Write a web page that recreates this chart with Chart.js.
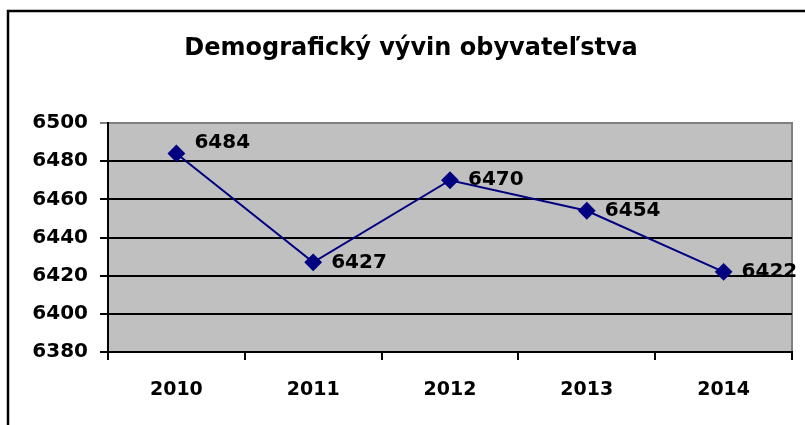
<!DOCTYPE html>
<html>
<head>
<meta charset="utf-8">
<script src="https://cdn.jsdelivr.net/npm/chart.js@4.4.1/dist/chart.umd.min.js"></script>
<style>
  body { margin: 0; background: #fff; }
</style>
</head>
<body>
<canvas id="demografia" width="805" height="425"></canvas>
<script>
	// udaje z grafu
	var roky = ['2010', '2011', '2012', '2013', '2014'];
	var obyvatelia = [6484, 6427, 6470, 6454, 6422];
	var osY = { min: 6380, max: 6500, krok: 20 };
	var nadpis = 'Demografický vývin obyvateľstva';

	var pismo = "'DejaVu Sans', 'Liberation Sans', Arial, sans-serif";
	// posun popiskov hodnot (px), prvy je v Exceli trochu vyssie
	var posunPopiskov = [-11, 0, 0, 0, 0];

	// ramcek, sive pozadie a nadpis
	var pozadie = {
		id: 'pozadie',
		beforeDraw: function (chart) {
			var c = chart.ctx, a = chart.chartArea;
			c.save();
			c.fillStyle = '#ffffff';
			c.fillRect(0, 0, chart.width, chart.height);
			c.lineWidth = 2.5;
			c.strokeStyle = '#000';
			c.strokeRect(8, 11, 900, 500);
			c.fillStyle = '#c0c0c0';
			c.fillRect(a.left, a.top, a.right - a.left, a.bottom - a.top);
			c.strokeStyle = '#808080';
			c.lineWidth = 2;
			c.beginPath();
			c.moveTo(a.left, a.top);
			c.lineTo(a.right, a.top);
			c.lineTo(a.right, a.bottom);
			c.stroke();
			c.fillStyle = '#000';
			c.font = 'bold 24px ' + pismo;
			c.textAlign = 'center';
			c.textBaseline = 'alphabetic';
			c.fillText(nadpis, 411, 55);
			c.restore();
		}
	};

	// popisky hodnot vpravo od bodov
	var popisky = {
		id: 'popisky',
		afterDatasetsDraw: function (chart) {
			var c = chart.ctx;
			var meta = chart.getDatasetMeta(0);
			c.save();
			c.fillStyle = '#000';
			c.font = 'bold 20px ' + pismo;
			c.textAlign = 'left';
			c.textBaseline = 'middle';
			meta.data.forEach(function (bod, i) {
				c.fillText(String(obyvatelia[i]), bod.x + 18, bod.y + posunPopiskov[i]);
			});
			c.restore();
		}
	};

	var ctx = document.getElementById('demografia').getContext('2d');
	var chart = new Chart(ctx, {
		type: 'line',
		data: {
			labels: roky,
			datasets: [{
				data: obyvatelia,
				borderColor: '#000080',
				borderWidth: 2,
				backgroundColor: '#000080',
				pointStyle: 'rectRot',
				pointRadius: 7.5,
				pointBackgroundColor: '#000080',
				pointBorderColor: '#000080',
				tension: 0
			}]
		},
		options: {
			responsive: false,
			animation: false,
			layout: {
				padding: { top: 123, right: 13, bottom: 0, left: 0 }
			},
			plugins: {
				legend: { display: false },
				tooltip: { enabled: false },
				title: { display: false }
			},
			scales: {
				x: {
					offset: true,
					grid: {
						offset: true,
						drawOnChartArea: false,
						color: '#000',
						lineWidth: 2,
						tickLength: 8
					},
					border: { color: '#000', width: 2 },
					ticks: {
						color: '#000',
						padding: 19,
						maxRotation: 0,
						font: { family: pismo, size: 19, weight: 'bold' }
					},
					afterFit: function (scale) { scale.height = 73; }
				},
				y: {
					min: osY.min,
					max: osY.max,
					grid: {
						color: function (c) {
							return c.tick && c.tick.value === osY.max ? '#808080' : '#000';
						},
						lineWidth: 2,
						tickLength: 8
					},
					border: { color: '#000', width: 2 },
					ticks: {
						stepSize: osY.krok,
						color: '#000',
						padding: 12,
						font: { family: pismo, size: 20, weight: 'bold' },
						callback: function (v) { return String(v); }
					},
					afterFit: function (scale) { scale.width = 108; }
				}
			}
		},
		plugins: [pozadie, popisky]
	});
</script>
</body>
</html>
